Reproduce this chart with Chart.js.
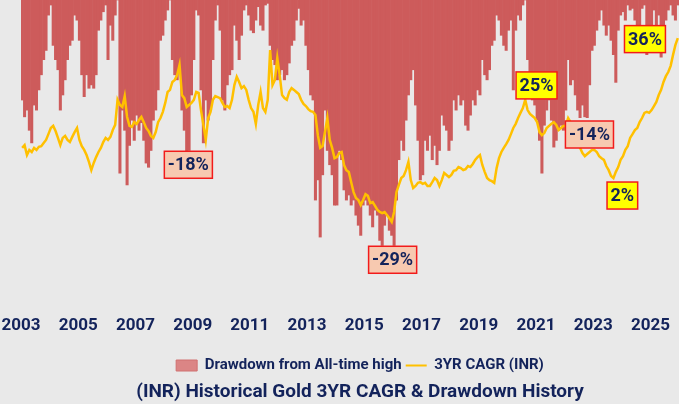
<!DOCTYPE html>
<html><head><meta charset="utf-8">
<script src="https://cdn.jsdelivr.net/npm/chart.js@4.4.1/dist/chart.umd.min.js"></script>
<style>
html,body{margin:0;padding:0;background:#E9E9E9;overflow:hidden;}
#wrap{width:679px;height:404px;}
</style></head><body>
<div id="wrap"><canvas id="c" width="679" height="404"></canvas></div>
<script>
// ---- DATA (monthly, Jan 2003 .. Dec 2025) ----
const startYear = 2003;
const tickYears = [2003, 2005, 2007, 2009, 2011, 2013, 2015, 2017, 2019, 2021, 2023, 2025];

// Drawdown from all-time high (%), one value per month
const drawdown = [
  -11.9,-13.9,-13.1,-15.5,-17.0,-12.5,-13.1,-10.7,-8.9,-7.1,-6.0,-1.8,   // 2003
  -0.6,-5.4,-7.1,-8.3,-13.1,-11.3,-9.5,-7.1,-5.4,-4.8,-1.8,-2.4,         // 2004
  -4.8,-8.9,-11.5,-8.9,-10.5,-10.1,-10.5,-8.9,-3.6,-2.4,-1.4,-0.6,       // 2005
  -7.1,-3.0,-4.8,-1.8,0,-20.6,-13.1,-15.5,-22.0,-17.3,-14.3,-16.7,       // 2006
  -13.7,-15.5,-14.6,-16.7,-19.4,-19.9,-17.9,-14.3,-13.1,-10.7,-4.8,-4.2, // 2007
  -2.4,-1.2,0,-7.1,-8.9,-9.5,-8.3,-13.1,-15.5,-21.2,-17.9,-11.3,         // 2008
  -7.1,-1.2,-1.8,-10.7,-17.0,-11.9,-14.3,-13.1,-7.1,-2.4,-0.6,-3.6,      // 2009
  -11.9,-13.1,-10.1,-8.9,-8.3,-3.0,-4.8,-7.1,-4.2,-1.2,-0.6,-1.8,        // 2010
  -3.6,-3.9,-2.4,-0.8,-3.0,-3.6,-0.6,-0.4,-5.4,-7.1,-7.7,-9.5,           // 2011
  -8.9,-8.3,-9.5,-8.9,-7.5,-5.4,-4.8,-2.4,-1.0,-3.0,-2.4,-5.4,           // 2012
  -8.3,-11.3,-11.9,-23.8,-21.4,-28.2,-20.8,-13.1,-17.9,-19.6,-20.8,-24.4,// 2013
  -24.4,-17.9,-19.0,-22.6,-23.8,-23.2,-24.4,-23.8,-25.6,-26.8,-28.0,-24.4,// 2014
  -23.8,-24.4,-25.6,-27.0,-25.0,-25.6,-28.6,-29.2,-26.8,-25.6,-27.4,-28.0,// 2015
  -29.2,-23.8,-19.0,-16.7,-17.9,-14.3,-11.3,-9.5,-8.3,-12.5,-16.7,-21.4, // 2016
  -20.8,-16.7,-17.9,-16.1,-19.0,-17.3,-19.6,-17.9,-13.7,-14.9,-15.5,-17.9,// 2017
  -16.7,-11.9,-13.1,-11.3,-12.5,-11.9,-14.9,-15.5,-13.7,-11.9,-12.5,-10.7,// 2018
  -11.3,-7.1,-8.9,-9.5,-8.3,-5.4,-4.8,-1.8,-2.4,-4.2,-5.4,-6.0,          // 2019
  -3.6,-2.4,-10.7,-3.6,-1.8,-2.4,-0.6,0,-7.1,-9.5,-11.9,-12.5,           // 2020
  -14.3,-16.7,-20.6,-14.9,-13.1,-11.9,-14.3,-17.5,-16.7,-15.5,-14.9,-15.5,// 2021
  -13.1,-7.1,-10.1,-9.5,-11.3,-13.1,-14.0,-12.5,-13.9,-14.0,-10.1,-6.0,  // 2022
  -5.4,-3.6,-2.4,-1.2,-3.0,-4.2,-3.0,-4.8,-6.5,-9.8,-3.6,-1.8,           // 2023
  -1.4,-2.4,-0.6,-1.2,-1.0,-2.4,-4.8,-3.6,-1.0,-0.6,-6.5,-4.8,           // 2024
  -4.2,-1.2,-3.0,-1.8,-6.8,-3.6,-2.4,-1.2,-0.6,-1.8,-2.4,-0.6            // 2025
];

// 3-year CAGR in INR (%), one value per month
const cagr3y = [
  11.1,11.9,9.0,10.5,9.9,11.1,10.5,11.4,11.6,12.5,13.4,15.1,   // 2003
  16.9,17.5,16.0,14.0,11.9,14.0,14.6,13.4,12.8,14.3,15.7,16.9, // 2004
  13.4,11.6,10.5,9.0,7.0,4.6,6.7,8.4,9.9,11.1,12.8,14.0,       // 2005
  13.4,14.3,16.3,17.8,25.1,23.6,23.0,26.2,20.1,17.5,17.2,18.6, // 2006
  18.1,19.2,20.1,18.6,16.9,16.0,14.6,14.0,15.7,18.6,19.8,21.6, // 2007
  24.2,27.4,28.0,30.3,30.9,32.3,35.3,26.5,25.6,23.0,23.6,24.2, // 2008
  25.1,27.4,27.1,22.1,17.8,13.4,19.8,21.6,25.1,26.2,25.9,25.6, // 2009
  24.2,23.0,23.3,22.7,25.1,29.4,31.8,30.3,28.5,29.1,28.0,25.1, // 2010
  22.7,21.6,18.1,23.6,27.4,22.7,21.6,25.1,39.6,29.4,30.9,37.3, // 2011
  32.3,26.5,25.6,25.1,27.4,28.5,28.0,27.4,26.8,25.1,23.9,23.3, // 2012
  22.4,21.8,21.6,20.7,14.8,11.1,11.6,15.7,19.8,13.4,11.1,8.1,  // 2013
  8.4,9.6,9.9,6.1,4.6,4.1,1.1,-1.8,-3.5,-4.1,-5.6,-4.1,        // 2014
  -2.4,-2.9,-5.0,-4.7,-5.8,-7.0,-7.6,-7.9,-7.6,-8.5,-9.4,-10.5,// 2015
  -7.6,-1.8,0.3,2.3,2.9,4.6,7.0,1.7,-0.6,0.0,0.9,1.1,          // 2016
  0.6,0.9,0.0,0.0,1.1,2.3,1.7,0.0,1.7,3.8,3.2,2.6,             // 2017
  3.2,4.4,4.6,5.5,5.2,4.6,4.9,5.8,5.5,6.4,7.6,8.4,             // 2018
  9.0,6.1,4.1,2.3,1.7,1.4,0.9,5.2,8.1,9.9,11.1,12.2,           // 2019
  13.4,15.1,16.9,18.1,19.8,21.3,22.7,25.1,22.1,21.0,20.4,19.8, // 2020
  18.6,15.7,14.8,15.4,16.9,17.5,18.1,18.6,17.8,16.3,16.9,17.5, // 2021
  17.5,19.8,18.6,16.9,14.8,12.8,11.1,9.6,8.7,9.3,9.9,10.5,     // 2022
  10.5,9.9,8.7,8.1,7.6,5.8,4.6,2.9,2.3,4.1,5.5,7.6,            // 2023
  8.7,10.5,11.6,14.0,15.1,16.3,16.9,18.6,19.8,21.3,21.6,21.3,  // 2024
  22.1,23.3,24.5,26.5,28.0,30.3,32.0,33.2,35.0,38.2,41.1,43.1  // 2025
];

// Callout labels (anchored in data units)
const calloutTexts  = ['-18%', '-29%', '25%', '-14%', '2%', '36%'];
const calloutYears  = [2008.85, 2015.99, 2021.02, 2022.87, 2024.02, 2024.81];
const calloutValues = [-19.6, -30.9, 29.3, -16.0, -2.8, 42.8];
const calloutAxes   = ['yDD', 'yDD', 'yC', 'yDD', 'yC', 'yC'];

// ---- CHART ----
const navy = '#13235B';
const months = drawdown.map((_, i) => startYear + (i + 0.5) / 12);

const calloutPlugin = {
  id: 'callouts',
  afterDatasetsDraw(chart) {
    const ctx = chart.ctx, xs = chart.scales.x;
    ctx.save();
    ctx.font = 'bold 18px Roboto';
    ctx.textAlign = 'center';
    ctx.textBaseline = 'middle';
    calloutTexts.forEach((t, i) => {
      const ys = chart.scales[calloutAxes[i]];
      const cx = xs.getPixelForValue(calloutYears[i]);
      const cy = ys.getPixelForValue(calloutValues[i]);
      const w = ctx.measureText(t).width + 7, h = 27;
      ctx.fillStyle = calloutAxes[i] === 'yDD' ? '#F7C9B0' : '#FFFF00';
      ctx.fillRect(cx - w / 2, cy - h / 2, w, h);
      ctx.strokeStyle = '#F21B1B';
      ctx.lineWidth = 1.5;
      ctx.strokeRect(cx - w / 2, cy - h / 2, w, h);
      ctx.fillStyle = navy;
      ctx.fillText(t, cx, cy + 1);
    });
    ctx.restore();
  }
};

function draw() {
  new Chart(document.getElementById('c'), {
    type: 'bar',
    data: {
      datasets: [
        {
          type: 'bar',
          label: 'Drawdown from All-time high',
          data: months.map((x, i) => ({ x, y: drawdown[i] })),
          yAxisID: 'yDD',
          backgroundColor: '#CD5B5B',
          borderWidth: 0,
          barPercentage: 1,
          categoryPercentage: 1,
          order: 2
        },
        {
          type: 'line',
          label: '3YR CAGR (INR)',
          data: months.map((x, i) => ({ x, y: cagr3y[i] })),
          yAxisID: 'yC',
          borderColor: '#FFC000',
          backgroundColor: '#FFC000',
          borderWidth: 2.5,
          pointRadius: 0,
          tension: 0,
          order: 1
        }
      ]
    },
    options: {
      responsive: false,
      animation: false,
      devicePixelRatio: 1,
      layout: { padding: { left: 21, right: -20, top: 0, bottom: 0 } },
      scales: {
        x: {
          type: 'linear', min: 2003, max: 2026, offset: false,
          grid: { display: false, drawTicks: true, tickLength: 9 },
          border: { display: false },
          afterBuildTicks: s => { s.ticks = tickYears.map(v => ({ value: v })); },
          afterFit: s => { s.height = 48; },
          ticks: {
            callback: v => String(v),
            font: { family: 'Roboto', size: 17, weight: 'bold' },
            color: navy, padding: 1, maxRotation: 0, autoSkip: false
          }
        },
        yDD: { display: false, min: -36.4, max: 0 },
        yC: { display: false, min: -35, max: 54.2 }
      },
      plugins: {
        legend: {
          position: 'bottom',
          labels: {
            usePointStyle: true, pointStyleWidth: 21, boxHeight: 11, padding: 4,
            font: { family: 'Roboto', size: 15, weight: 'bold' }, color: navy,
            sort: (a, b) => a.datasetIndex - b.datasetIndex,
            generateLabels: chart => {
              const items = Chart.defaults.plugins.legend.labels.generateLabels(chart);
              items.forEach(it => {
                if (it.datasetIndex === 0) {
                  it.pointStyle = 'rect'; it.fillStyle = '#DB8585';
                  it.strokeStyle = '#D07070'; it.lineWidth = 1;
                } else {
                  it.pointStyle = 'line'; it.strokeStyle = '#FFC000'; it.lineWidth = 2;
                }
              });
              return items;
            }
          }
        },
        title: {
          display: true, position: 'bottom',
          text: '(INR) Historical Gold 3YR CAGR & Drawdown History',
          font: { family: 'Roboto', size: 19, weight: 'bold', lineHeight: 1.0 }, color: navy,
          padding: { top: 0, bottom: 2 }
        },
        tooltip: { enabled: false }
      }
    },
    plugins: [calloutPlugin]
  });
}
if (document.fonts && document.fonts.load) {
  Promise.all([document.fonts.load('bold 18px Roboto')]).then(draw, draw);
} else { draw(); }
</script>
</body></html>
